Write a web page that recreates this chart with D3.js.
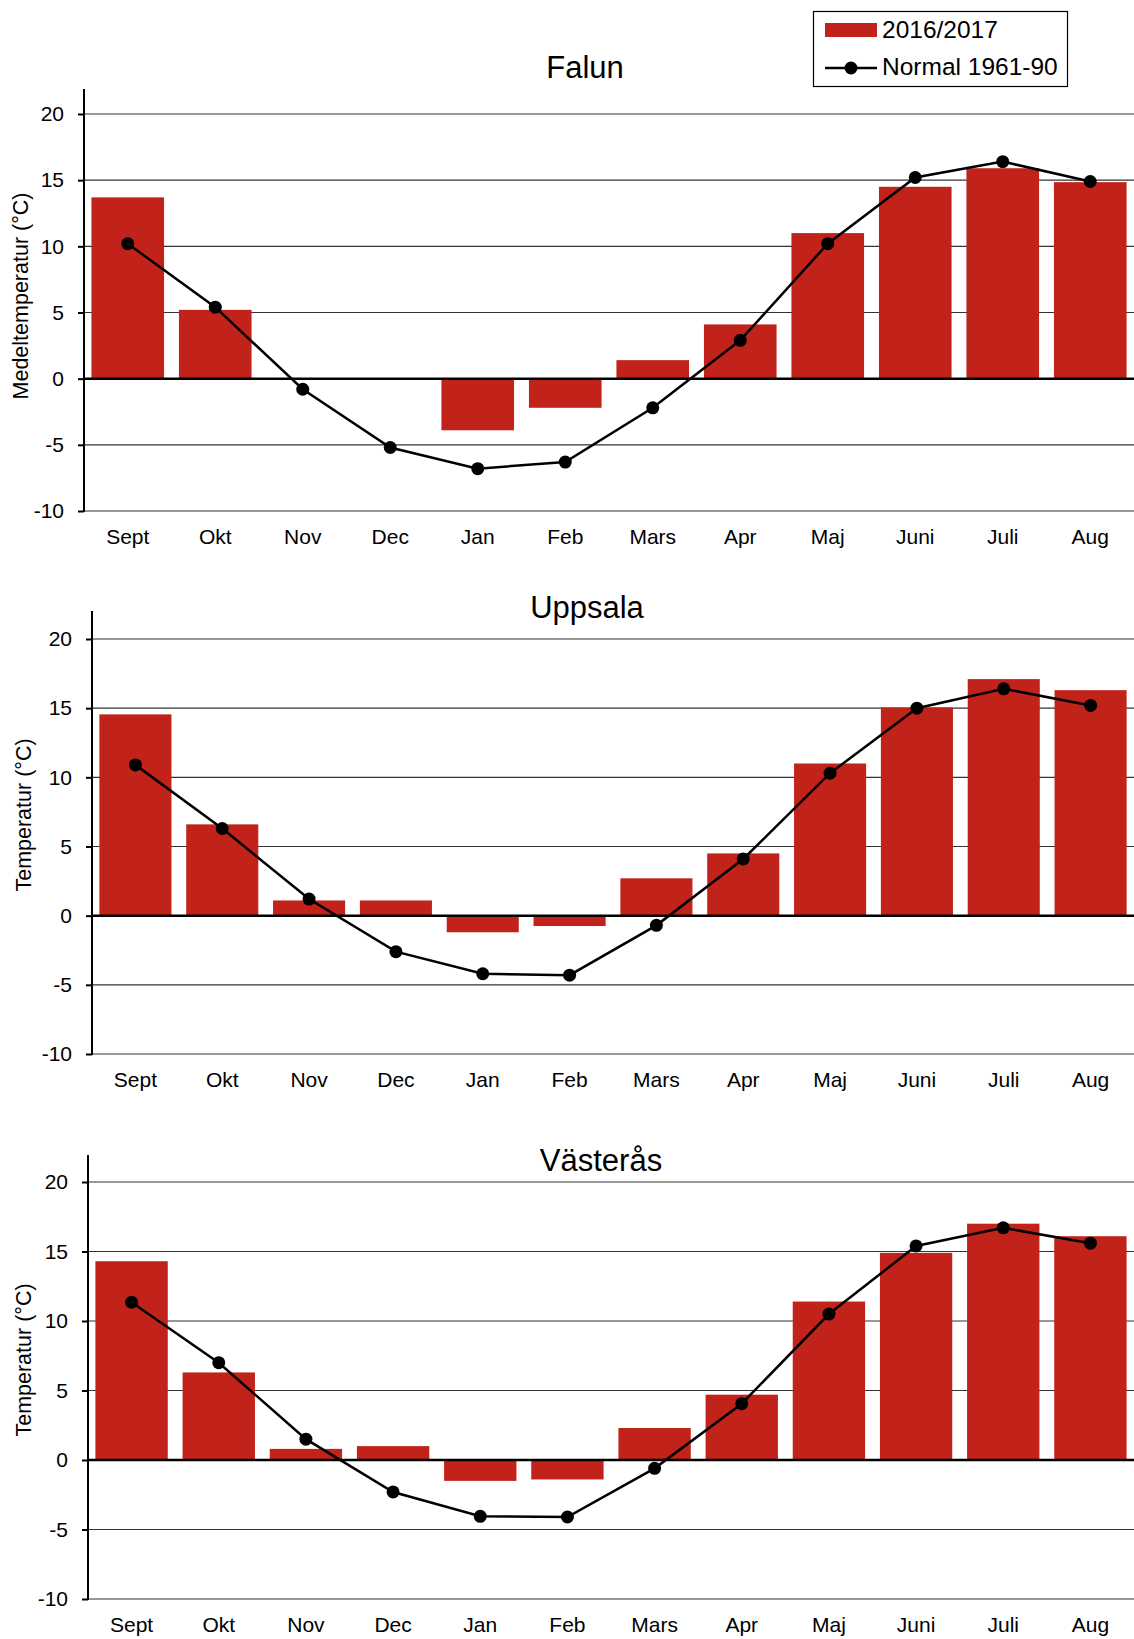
<!DOCTYPE html>
<html>
<head>
<meta charset="utf-8">
<script src="https://cdn.jsdelivr.net/npm/d3@7"></script>
<style>
body { margin: 0; background: #fff; }
text { font-family: "Liberation Sans", Arial, sans-serif; fill: #000; }
</style>
</head>
<body>
<script>
var W = 1134, H = 1639;

var months = ["Sept", "Okt", "Nov", "Dec", "Jan", "Feb", "Mars", "Apr", "Maj", "Juni", "Juli", "Aug"];
var yTicks = [20, 15, 10, 5, 0, -5, -10];

var falunObs = [13.7, 5.2, 0, -0.1, -3.9, -2.2, 1.4, 4.1, 11.0, 14.5, 15.9, 14.85];
var falunNorm = [10.2, 5.4, -0.8, -5.2, -6.8, -6.3, -2.2, 2.9, 10.2, 15.2, 16.4, 14.9];

var uppsalaObs = [14.55, 6.6, 1.1, 1.1, -1.2, -0.75, 2.7, 4.5, 11.0, 15.05, 17.1, 16.3];
var uppsalaNorm = [10.9, 6.3, 1.2, -2.6, -4.2, -4.3, -0.7, 4.1, 10.3, 15.0, 16.4, 15.2];

var vasterasObs = [14.3, 6.3, 0.8, 1.0, -1.5, -1.4, 2.3, 4.7, 11.4, 14.9, 17.0, 16.1];
var vasterasNorm = [11.35, 7.0, 1.5, -2.3, -4.05, -4.1, -0.6, 4.05, 10.5, 15.4, 16.7, 15.6];

var seriesNames = ["2016/2017", "Normal 1961-90"];

var panels = [
  { title: "Falun", ytitle: "Medeltemperatur (°C)", obs: falunObs, norm: falunNorm,
    left: 84, top20: 114, bot10: 511, axisTop: 89, titleX: 585, titleY: 67, yTitleX: 21, yTitleY: 296, labelY: 544 },
  { title: "Uppsala", ytitle: "Temperatur (°C)", obs: uppsalaObs, norm: uppsalaNorm,
    left: 92, top20: 639, bot10: 1054, axisTop: 611, titleX: 587, titleY: 607, yTitleX: 24, yTitleY: 815, labelY: 1087 },
  { title: "Västerås", ytitle: "Temperatur (°C)", obs: vasterasObs, norm: vasterasNorm,
    left: 88, top20: 1182, bot10: 1599, axisTop: 1155, titleX: 601, titleY: 1160, yTitleX: 24, yTitleY: 1360, labelY: 1632 }
];

var svg = d3.select("body")
    .append("svg")
    .attr("width", W)
    .attr("height", H);

panels.forEach(function(p) {
  var x = d3.scaleBand()
      .domain(months)
      .range([p.left, W])
      .paddingInner(0.17)
      .paddingOuter(0.085);
  var y = d3.scaleLinear()
      .domain([-10, 20])
      .range([p.bot10, p.top20]);

  var g = svg.append("g");

  // grid lines
  g.selectAll("line.grid")
    .data(yTicks.filter(function(d) { return d !== 0; }))
    .enter()
    .append("line")
    .attr("x1", p.left)
    .attr("x2", W)
    .attr("y1", function(d) { return y(d); })
    .attr("y2", function(d) { return y(d); })
    .attr("stroke", "#333")
    .attr("stroke-width", 1.2);

  // bars
  g.selectAll("rect")
    .data(p.obs)
    .enter()
    .append("rect")
    .attr("x", function(d, i) { return x(months[i]); })
    .attr("width", x.bandwidth())
    .attr("y", function(d) { return y(Math.max(0, d)); })
    .attr("height", function(d) { return Math.abs(y(d) - y(0)); })
    .attr("fill", "#c1231a");

  // zero line
  g.append("line")
    .attr("x1", p.left).attr("x2", W)
    .attr("y1", y(0)).attr("y2", y(0))
    .attr("stroke", "#000")
    .attr("stroke-width", 2.5);

  // y axis
  var yAxis = d3.axisLeft(y)
    .tickValues(yTicks)
    .tickSize(6)
    .tickPadding(14)
    .tickFormat(function(d) { return String(d); });
  var ya = g.append("g")
    .attr("transform", "translate(" + p.left + ",0)")
    .call(yAxis);
  ya.select(".domain").remove();
  ya.selectAll(".tick line").attr("stroke", "#000").attr("stroke-width", 2);
  ya.selectAll(".tick text").attr("font-size", "21px").attr("fill", "#000");
  g.append("line")
    .attr("x1", p.left).attr("x2", p.left)
    .attr("y1", p.axisTop).attr("y2", p.bot10 + 1)
    .attr("stroke", "#000")
    .attr("stroke-width", 2);

  // x labels
  g.selectAll("text.month")
    .data(months)
    .enter()
    .append("text")
    .attr("class", "month")
    .attr("x", function(d) { return x(d) + x.bandwidth() / 2; })
    .attr("y", p.labelY)
    .attr("text-anchor", "middle")
    .attr("font-size", "21px")
    .text(function(d) { return d; });

  // normal line
  var line = d3.line()
    .x(function(d, i) { return x(months[i]) + x.bandwidth() / 2; })
    .y(function(d) { return y(d); });
  g.append("path")
    .datum(p.norm)
    .attr("d", line)
    .attr("fill", "none")
    .attr("stroke", "#000")
    .attr("stroke-width", 2.5);
  g.selectAll("circle")
    .data(p.norm)
    .enter()
    .append("circle")
    .attr("cx", function(d, i) { return x(months[i]) + x.bandwidth() / 2; })
    .attr("cy", function(d) { return y(d); })
    .attr("r", 6.5)
    .attr("fill", "#000");

  // titles
  g.append("text")
    .attr("x", p.titleX)
    .attr("y", p.titleY + 11)
    .attr("text-anchor", "middle")
    .attr("font-size", "31px")
    .text(p.title);
  g.append("text")
    .attr("transform", "translate(" + (p.yTitleX + 7) + "," + p.yTitleY + ") rotate(-90)")
    .attr("text-anchor", "middle")
    .attr("font-size", "21.5px")
    .text(p.ytitle);
});

// legend
var lg = svg.append("g");
lg.append("rect")
  .attr("x", 813.5).attr("y", 11.5)
  .attr("width", 254).attr("height", 75)
  .attr("fill", "#fff")
  .attr("stroke", "#000")
  .attr("stroke-width", 1.2);
lg.append("rect")
  .attr("x", 825).attr("y", 23)
  .attr("width", 52).attr("height", 14)
  .attr("fill", "#c1231a");
lg.append("line")
  .attr("x1", 825).attr("x2", 877)
  .attr("y1", 68).attr("y2", 68)
  .attr("stroke", "#000").attr("stroke-width", 2.5);
lg.append("circle")
  .attr("cx", 851).attr("cy", 68).attr("r", 6.5).attr("fill", "#000");
lg.selectAll("text")
  .data(seriesNames)
  .enter()
  .append("text")
  .attr("x", 882)
  .attr("y", function(d, i) { return 38 + i * 37; })
  .attr("font-size", "24.5px")
  .text(function(d) { return d; });
</script>
</body>
</html>
